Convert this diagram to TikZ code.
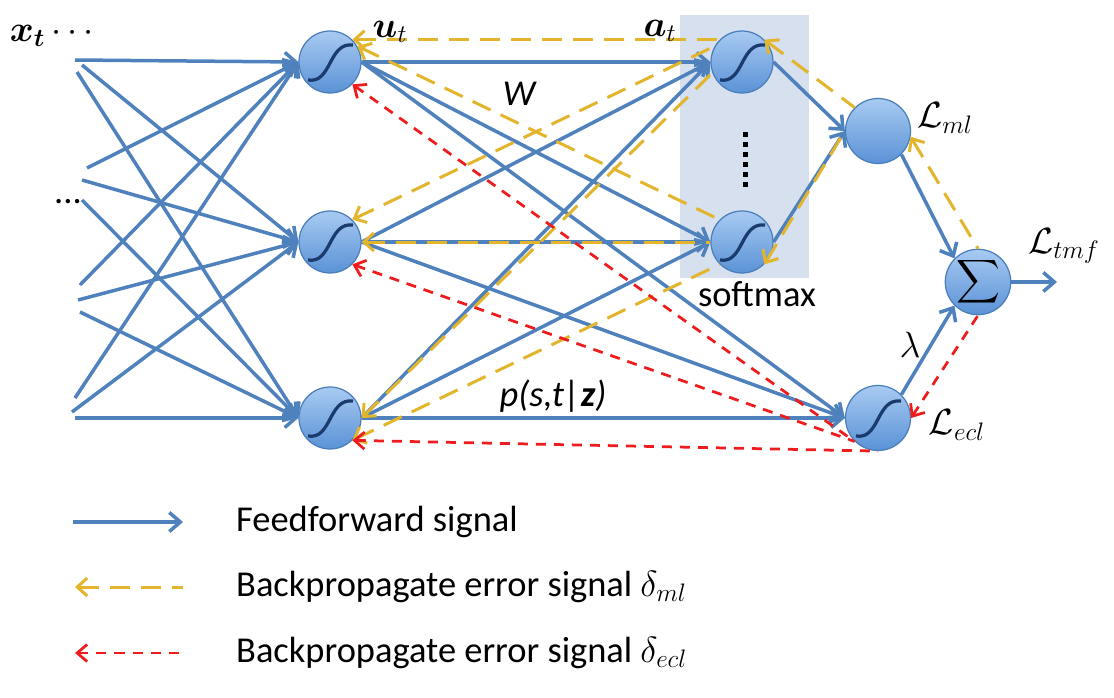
\documentclass[tikz,border=0pt]{standalone}
\usepackage{amsmath, amssymb}
\usepackage{fontspec}
\setmainfont{Carlito}
\usepackage{tikz}
\usetikzlibrary{arrows.meta}

\definecolor{ffblue}{HTML}{4F81BD}
\definecolor{mlgold}{HTML}{E2B52C}
\definecolor{eclred}{HTML}{EE1C1C}
\definecolor{nodetop}{HTML}{A8CAF2}
\definecolor{nodebot}{HTML}{5A92D6}
\definecolor{nodeline}{HTML}{4A7EBB}
\definecolor{sigline}{HTML}{1B3B6F}
\definecolor{softbg}{HTML}{D6E0EE}

\begin{document}
\begin{tikzpicture}[x=0.2mm, y=-0.2mm, font=\fontsize{20.74}{25}\selectfont,
    unit/.style={circle, inner sep=0pt, minimum size=12.4mm, draw=nodeline,
        line width=0.7pt, top color=nodetop, bottom color=nodebot},
    sig/.style={unit, path picture={
        \draw[sigline, line width=0.65mm, shift={(path picture bounding box.center)}]
            (-22,18) .. controls (2,22) and (-2,-20) .. (23,-17);}},
    ff/.style={ffblue, line width=0.7mm, -{Straight Barb[length=2.2mm,width=3.8mm]}},
    bml/.style={mlgold, line width=0.6mm, dash pattern=on 4mm off 2.2mm,
        {Straight Barb[length=2mm,width=3.6mm]}-},
    becl/.style={eclred, line width=0.55mm, dash pattern=on 2mm off 1.6mm,
        {Straight Barb[length=2mm,width=3.4mm]}-}]

    \useasboundingbox (0,0) rectangle (1114,698);

    % Fond softmax
    \fill[softbg] (680,15) rectangle (809,278);
    \draw[line width=1mm, dash pattern=on 1mm off 1mm] (745,132) -- (745,188);

    % Neurones
    \node[sig] (h1) at (330,62) {};
    \node[sig] (h2) at (330,242) {};
    \node[sig] (h3) at (330,418) {};
    \node[sig] (s1) at (742,62) {};
    \node[sig] (s2) at (742,242) {};
    \node[unit, minimum size=13mm] (lml) at (878,131) {};
    \node[unit, minimum size=13mm] (sum) at (978,282) {\fontsize{17.28}{17}\selectfont$\displaystyle\sum$};
    \node[sig, minimum size=13mm] (lecl) at (878,418) {};

    % Entrees vers la couche cachee
    \foreach \px/\py/\t [count=\i] in {75/60/h1, 82/65/h2, 77/72/h3,
        87/168/h1, 82/180/h2, 82/200/h3, 80/285/h1, 78/300/h2, 80/312/h3,
        75/398/h1, 72/412/h2, 75/418/h3}{
        \coordinate (in\i) at (\px,\py);
        \draw[ff] (in\i) -- (\t.west);
    }

    % Couche cachee vers softmax et ecl
    \foreach \a in {h1,h2,h3}{
        \draw[ff] (\a.east) -- (s1.west);
        \draw[ff] (\a.east) -- (s2.west);
        \draw[ff] (\a.east) -- (lecl.west);
    }
    \draw[ff] (s1.east) -- (lml.west);
    \draw[ff] (s2.east) -- (lml.west);
    \draw[ff] (lml.south east) -- (sum.north west);
    \draw[ff] (lecl.north east) -- (sum.south west);
    \coordinate (out) at (1057,282);
    \draw[ff] (sum.east) -- (out);

    % Retropropagation ml (jaune)
    \draw[bml] (h1.north east) -- (s1.north west);
    \draw[bml] (h1.30) -- (s2.north west);
    \draw[bml] (h2.north east) -- (s1.150);
    \draw[bml] (h2.east) -- (s2.west);
    \draw[bml] (h3.east) -- (s1.200);
    \draw[bml] (h3.south east) -- (s2.south west);
    \draw[bml] (s1.north east) -- (lml.north west);
    \draw[bml] (s2.south east) -- (lml.west);
    \draw[bml] (lml.-10) -- (sum.north);

    % Retropropagation ecl (rouge)
    \draw[becl] (h1.south east) -- (lecl.south west);
    \draw[becl] (h2.south east) -- (lecl.south west);
    \draw[becl] (h3.south east) -- (lecl.south);
    \draw[becl] (lecl.east) -- (sum.south);

    % Etiquettes
    \node (xlab) at (55,36) {$\boldsymbol{x}_{\boldsymbol{t}}\cdots$};
    \node (xdots) at (68,202) {...};
    \node (ulab) at (390,32) {$\boldsymbol{u}_t$};
    \node (alab) at (660,31) {$\boldsymbol{a}_t$};
    \node (wlab) at (520,94) {\textit{W}};
    \node (plab) at (553,396) {\textit{p(s,t|\textbf{z})}};
    \node (smlab) at (757,294) {softmax};
    \node (lmllab) at (945,118) {$\mathcal{L}_{ml}$};
    \node (ltmflab) at (1064,246) {$\mathcal{L}_{tmf}$};
    \node (ecllab) at (957,425) {$\mathcal{L}_{ecl}$};
    \node (lamlab) at (910,345) {$\lambda$};

    % Legende
    \coordinate (lg1a) at (73,522);  \coordinate (lg1b) at (183,522);
    \coordinate (lg2a) at (75,587);  \coordinate (lg2b) at (183,587);
    \coordinate (lg3a) at (75,653);  \coordinate (lg3b) at (183,653);
    \draw[ff] (lg1a) -- (lg1b);
    \draw[bml] (lg2a) -- (lg2b);
    \draw[becl] (lg3a) -- (lg3b);
    \node[anchor=west] (lg1t) at (230,522) {Feedforward signal};
    \node[anchor=west] (lg2t) at (230,587) {Backpropagate error signal $\delta_{ml}$};
    \node[anchor=west] (lg3t) at (230,653) {Backpropagate error signal $\delta_{ecl}$};

\end{tikzpicture}
\end{document}
